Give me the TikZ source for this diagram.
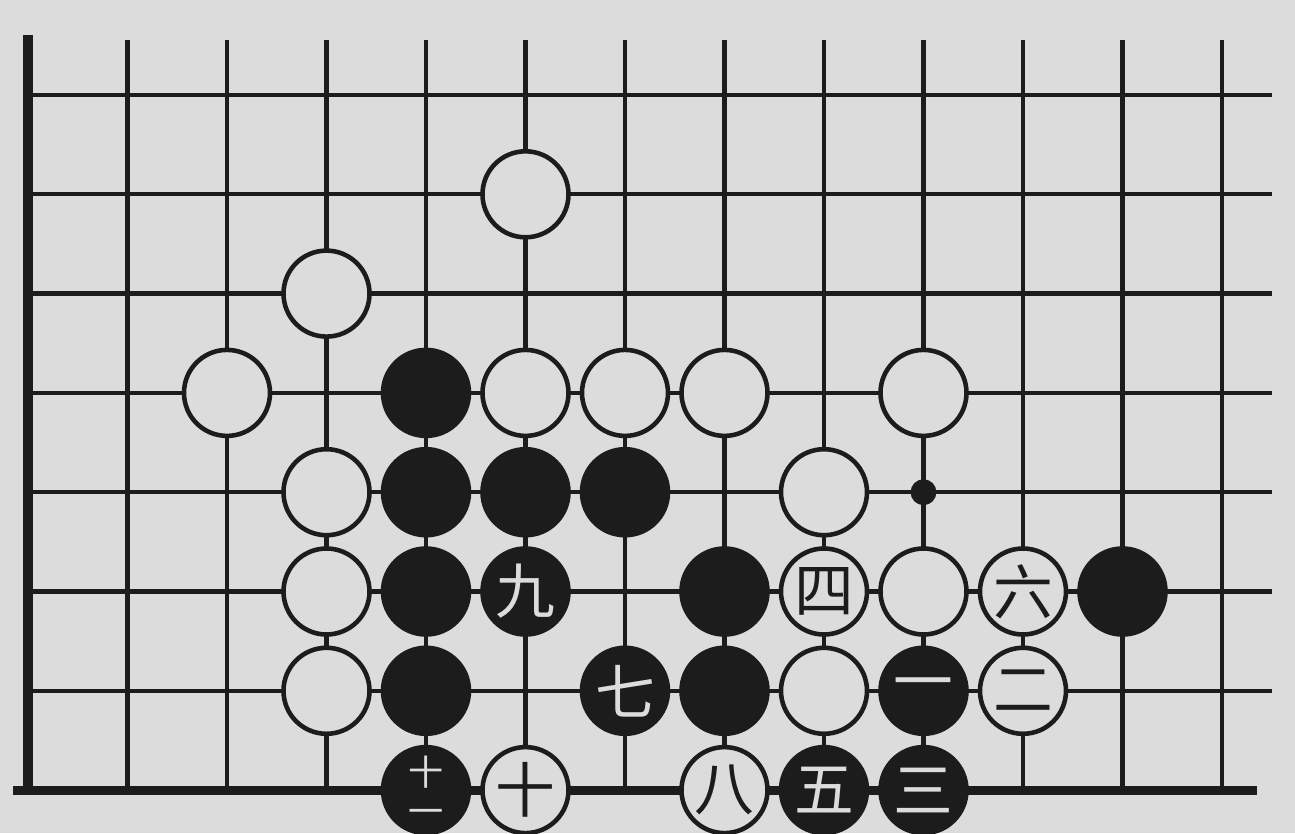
\documentclass[tikz,border=0pt]{standalone}
\usepackage{fontspec}
\newfontfamily\cjk{Noto Sans CJK SC}
\usetikzlibrary{positioning}
\definecolor{paper}{HTML}{DCDCDC}
\definecolor{ink}{HTML}{1C1C1C}

\begin{document}
\begin{tikzpicture}[
    grid/.style={ink, line width=1.2pt},
    edge/.style={ink, line width=2.6pt},
    wst/.style={circle, draw=ink, fill=paper, line width=1.3pt, minimum size=0.86cm, inner sep=0pt, font=\cjk\fontsize{17}{17}\selectfont, text=ink},
    bst/.style={circle, draw=ink, fill=ink, line width=1.3pt, minimum size=0.86cm, inner sep=0pt, font=\cjk\fontsize{17}{17}\selectfont, text=paper}]
  \fill[paper] (0,0) rectangle (12.95,8.33);
  \useasboundingbox (0,0) rectangle (12.95,8.33);
  \begin{scope}[shift={(0.28,7.38)}, x=0.995cm, y=-0.993cm]
    % board lines
    \foreach \c in {1,...,12}
      \draw[grid] (\c,-0.55) -- (\c,7);
    \foreach \r in {0,...,6}
      \draw[grid] (0,\r) -- (12.5,\r);
    \draw[edge] (0,-0.6) -- (0,7);
    \draw[edge] (-0.15,7) -- (12.35,7);
    \fill[ink] (9,4) circle (0.13) coordinate (mark);
    % plain stones
    \foreach \c/\r in {5/1, 3/2, 2/3, 5/3, 6/3, 7/3, 9/3, 3/4, 8/4, 3/5, 9/5, 3/6, 8/6}
      \node[wst] (w\c\r) at (\c,\r) {};
    \foreach \c/\r in {4/3, 4/4, 5/4, 6/4, 4/5, 7/5, 11/5, 4/6, 7/6}
      \node[bst] (b\c\r) at (\c,\r) {};
    % numbered moves
    \node[bst] (m1) at (9,6) {一};
    \node[wst] (m2) at (10,6) {二};
    \node[bst] (m3) at (9,7) {三};
    \node[wst] (m4) at (8,5) {四};
    \node[bst] (m5) at (8,7) {五};
    \node[wst] (m6) at (10,5) {六};
    \node[bst] (m7) at (6,6) {七};
    \node[wst] (m8) at (7,7) {八};
    \node[bst] (m9) at (5,5) {九};
    \node[wst] (m10) at (5,7) {十};
    \node[bst, align=center, font=\cjk\fontsize{10}{11}\selectfont] (m11) at (4,7) {十\\一};
  \end{scope}
\end{tikzpicture}
\end{document}
